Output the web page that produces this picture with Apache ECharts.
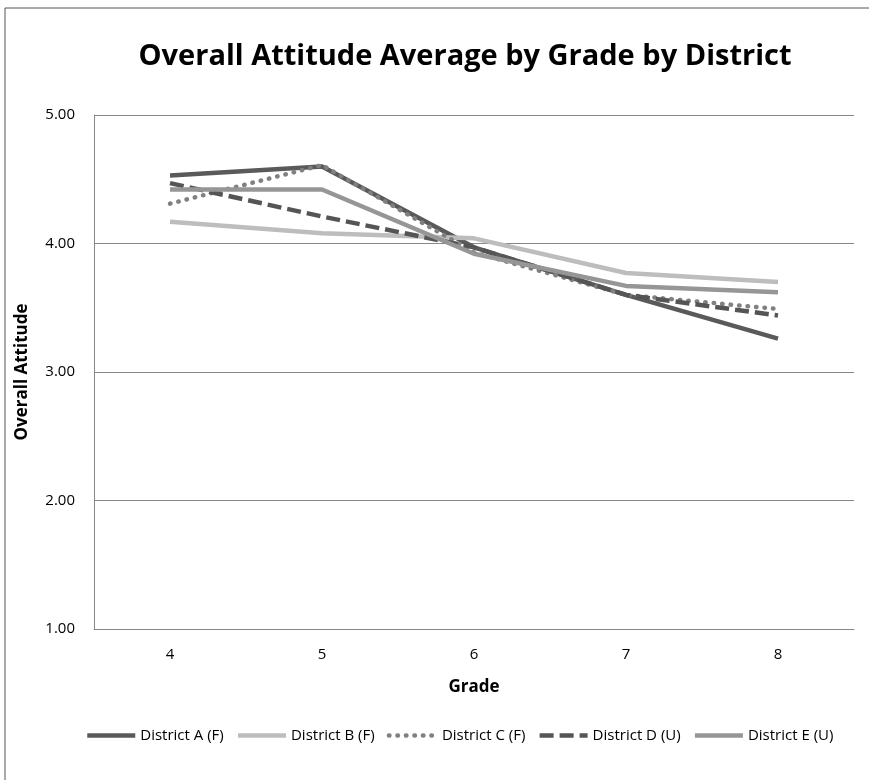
<!DOCTYPE html>
<html style="height: 100%">
<head>
  <meta charset="utf-8">
  <title>Overall Attitude Average by Grade by District</title>
  <script src="https://cdn.jsdelivr.net/npm/echarts@6/dist/echarts.min.js"></script>
</head>
<body style="height: 100%; margin: 0; background: #fff">
  <div id="main" style="width: 869px; height: 780px"></div>
  <script type="text/javascript">
    var grades = ['4', '5', '6', '7', '8'];
    var districtA = [4.53, 4.60, 3.97, 3.60, 3.26];
    var districtB = [4.17, 4.08, 4.04, 3.77, 3.70];
    var districtC = [4.31, 4.61, 3.93, 3.60, 3.49];
    var districtD = [4.47, 4.21, 3.97, 3.60, 3.44];
    var districtE = [4.42, 4.42, 3.92, 3.67, 3.62];

    var font = "'Open Sans', sans-serif";

    function line(name, data, color, type) {
      var dotted = type === 'dotted';
      return {
        name: name,
        type: 'line',
        data: data,
        symbol: 'none',
        lineStyle: {
          color: color,
          width: 4.5,
          type: dotted ? [0.5, 8] : type,
          cap: dotted ? 'round' : 'butt'
        },
        itemStyle: { color: color }
      };
    }

    var option = {
      animation: false,
      textStyle: { fontFamily: font },
      title: {
        text: 'Overall Attitude Average by Grade by District',
        left: 460,
        textAlign: 'center',
        top: 37,
        textStyle: { fontSize: 29, fontWeight: 'bold', color: '#000', fontFamily: font }
      },
      graphic: [
        { type: 'line', shape: { x1: 5, y1: 8, x2: 869, y2: 8 }, style: { stroke: '#555', lineWidth: 1 } },
        { type: 'line', shape: { x1: 5, y1: 8, x2: 5, y2: 780 }, style: { stroke: '#555', lineWidth: 1 } }
      ],
      legend: {
        bottom: 32,
        left: 80,
        itemWidth: 48,
        itemHeight: 10,
        itemGap: 12,
        itemStyle: { opacity: 0 },
        lineStyle: { width: 4.5 },
        textStyle: { fontSize: 15, color: '#000', fontFamily: font },
        data: ['District A (F)', 'District B (F)', 'District C (F)', 'District D (U)', 'District E (U)']
      },
      grid: { left: 94, right: 15, top: 115, bottom: 151 },
      xAxis: {
        type: 'category',
        data: grades,
        name: 'Grade',
        nameLocation: 'middle',
        nameGap: 50,
        nameTextStyle: { fontSize: 17, fontWeight: 'bold', color: '#000' },
        axisLine: { lineStyle: { color: '#888' } },
        axisTick: { show: false },
        axisLabel: { fontSize: 15, color: '#000', margin: 18 }
      },
      yAxis: {
        type: 'value',
        min: 1,
        max: 5,
        interval: 1,
        name: 'Overall Attitude',
        nameLocation: 'middle',
        nameGap: 63,
        nameTextStyle: { fontSize: 17, fontWeight: 'bold', color: '#000' },
        axisLine: { show: true, lineStyle: { color: '#888' } },
        axisTick: { show: false },
        splitLine: { lineStyle: { color: '#888' } },
        axisLabel: {
          fontSize: 15,
          color: '#000',
          margin: 19,
          formatter: function (v) { return v.toFixed(2); }
        }
      },
      series: [
        line('District A (F)', districtA, '#5a5a5a', 'solid'),
        line('District B (F)', districtB, '#bdbdbd', 'solid'),
        line('District C (F)', districtC, '#808080', 'dotted'),
        line('District D (U)', districtD, '#555555', [14, 6]),
        line('District E (U)', districtE, '#969696', 'solid')
      ]
    };

    var chart = echarts.init(document.getElementById('main'));
    chart.setOption(option);
  </script>
</body>
</html>
